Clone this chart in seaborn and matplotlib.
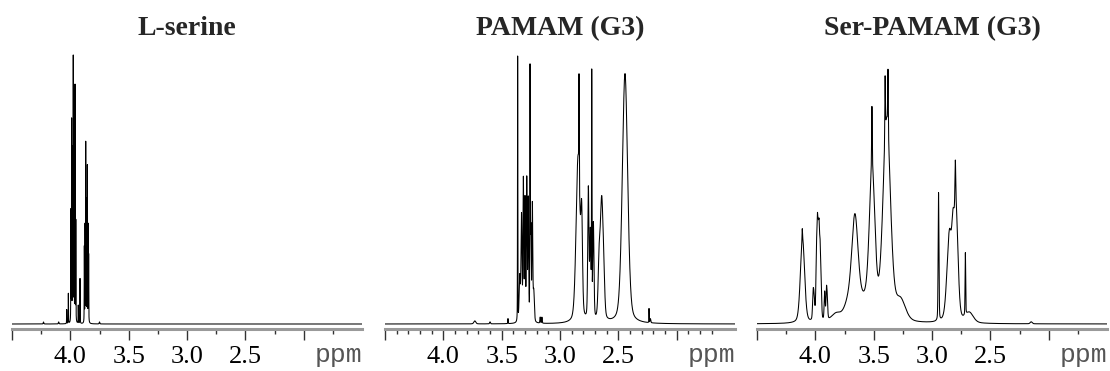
import numpy as np
import pandas as pd
import seaborn as sns
import matplotlib
matplotlib.use("Agg")
import matplotlib.pyplot as plt

# ---------------- data ----------------
titles = ["L-serine", "PAMAM (G3)", "Ser-PAMAM (G3)"]
tick_values = [4.0, 3.5, 3.0, 2.5]
tick_labels = ["4.0", "3.5", "3.0", "2.5"]
unit_label = "ppm"

# peak tables: position (ppm), height (intensity units), half width (ppm)
serine_ppm = [4.23, 4.10, 4.031, 4.017, 3.995, 3.989, 3.982, 3.975, 3.968, 3.960, 3.953,
              3.932, 3.917, 3.880, 3.874, 3.868, 3.861, 3.854, 3.847, 3.843, 3.75]
serine_height = [2, 2, 14, 30, 110, 200, 170, 262, 190, 235, 100,
                 18, 45, 75, 95, 178, 120, 155, 95, 65, 2]
serine_width = [0.003, 0.003, 0.0012, 0.0012, 0.0012, 0.0012, 0.0012, 0.0012, 0.0012, 0.0012, 0.0012,
                0.0012, 0.0012, 0.0012, 0.0012, 0.0012, 0.0012, 0.0012, 0.0012, 0.0012, 0.003]

pamam_ppm = [3.73, 3.60, 3.446, 3.363, 3.345, 3.330, 3.314, 3.300, 3.285, 3.272, 3.257,
             3.250, 3.237, 3.225, 3.170, 3.155, 2.845, 2.837, 2.814, 2.757, 2.740,
             2.728, 2.714, 2.665, 2.643, 2.625, 2.443, 2.237, 2.225]
pamam_height = [3, 2, 5, 265, 45, 105, 140, 120, 140, 120, 240,
                90, 115, 30, 6, 6, 165, 100, 85, 130, 85,
                235, 95, 50, 118, 30, 250, 14, 4]
pamam_width = [0.01, 0.004, 0.002, 0.0015, 0.006, 0.005, 0.004, 0.004, 0.004, 0.004, 0.002,
               0.004, 0.004, 0.006, 0.003, 0.003, 0.02, 0.002, 0.008, 0.006, 0.006,
               0.002, 0.006, 0.01, 0.014, 0.01, 0.027, 0.0015, 0.004]

serpamam_ppm = [4.110, 4.112, 4.020, 4.013, 3.990, 3.982, 3.975, 3.968, 3.960, 3.952,
                3.920, 3.905, 3.898, 3.82, 3.72, 3.661, 3.580, 3.513, 3.515, 3.388,
                3.402, 3.377, 3.270, 2.944, 2.850, 2.820, 2.794, 2.800, 2.714, 2.680,
                2.15]
serpamam_height = [85, 10, 15, 25, 60, 70, 58, 70, 55, 38,
                   28, 28, 18, 8, 14, 95, 18, 140, 60, 200,
                   62, 62, 20, 128, 88, 45, 108, 45, 62, 10,
                   2]
serpamam_width = [0.021, 0.002, 0.005, 0.008, 0.006, 0.005, 0.005, 0.005, 0.005, 0.006,
                  0.005, 0.005, 0.005, 0.05, 0.04, 0.032, 0.08, 0.028, 0.003, 0.038,
                  0.003, 0.003, 0.05, 0.004, 0.025, 0.012, 0.02, 0.004, 0.003, 0.04,
                  0.01]

lorentz_fraction = [0.5, 0.3, 0.3]

# ---------------- build spectra from peak tables ----------------
grid = np.linspace(4.5, 1.5, 30001)


def spectrum(pos, hgt, wid, eta):
    y = np.zeros_like(grid)
    for c, h, w in zip(pos, hgt, wid):
        d = (grid - c) / w
        y += h * (eta / (1 + d ** 2) + (1 - eta) * np.exp(-np.log(2) * d ** 2))
    return y


tables = [(serine_ppm, serine_height, serine_width),
          (pamam_ppm, pamam_height, pamam_width),
          (serpamam_ppm, serpamam_height, serpamam_width)]
frames = []
for name, (p, h, w), eta in zip(titles, tables, lorentz_fraction):
    frames.append(pd.DataFrame({"ppm": grid, "intensity": spectrum(p, h, w, eta), "sample": name}))
df = pd.concat(frames, ignore_index=True)

# ---------------- drawing ----------------
sns.set_theme(style="white")
plt.rcParams["font.family"] = ["Liberation Serif", "DejaVu Serif"]

W, H = 1110, 371
fig = plt.figure(figsize=(W / 100, H / 100), dpi=100)

lefts = [12, 385, 757]
ax_w = 350
ax_bottom_px = 329
ax_top_px = 40
ax_h = ax_bottom_px - ax_top_px
minor_steps = [0.25, 0.1, 0.25]

for i, name in enumerate(titles):
    ax = fig.add_axes([lefts[i] / W, (H - ax_bottom_px) / H, ax_w / W, ax_h / H])
    sub = df[df["sample"] == name]
    sns.lineplot(data=sub, x="ppm", y="intensity", ax=ax, color="black",
                 linewidth=0.75, estimator=None, sort=False, legend=False)
    ax.set_xlim(4.5, 1.5)
    ax.set_ylim(-5, ax_h - 5)
    ax.set_xlabel("")
    ax.set_ylabel("")
    ax.set_yticks([])
    for s in ["top", "left", "right"]:
        ax.spines[s].set_visible(False)
    ax.spines["bottom"].set_color("#9a9a9a")
    ax.spines["bottom"].set_linewidth(2.2)

    majors = [4.5] + tick_values + [2.0]
    ax.set_xticks(majors)
    ax.set_xticklabels([""] + tick_labels + [""])
    step = minor_steps[i]
    n = int(round((4.5 - 1.75) / step))
    minors = [round(4.5 - k * step, 3) for k in range(1, n + 1)]
    minors = [m for m in minors if all(abs(m - M) > 1e-6 for M in majors) and m > 1.55]
    ax.set_xticks(minors, minor=True)
    ax.tick_params(axis="x", which="major", direction="out", length=8, width=1,
                   color="#333333", pad=4, labelsize=19, labelcolor="black", bottom=True)
    ax.tick_params(axis="x", which="minor", direction="out", length=3.5, width=1,
                   color="#333333", bottom=True)

    ax.text(1.0, -33 / ax_h, unit_label, transform=ax.transAxes, ha="right",
            va="baseline", fontsize=19, family="Liberation Mono", color="#555555")

    fig.text((lefts[i] + ax_w / 2) / W, (H - 35) / H, name, ha="center", va="baseline",
             fontsize=20, fontweight="bold")

fig.savefig("out.png", dpi=100)
